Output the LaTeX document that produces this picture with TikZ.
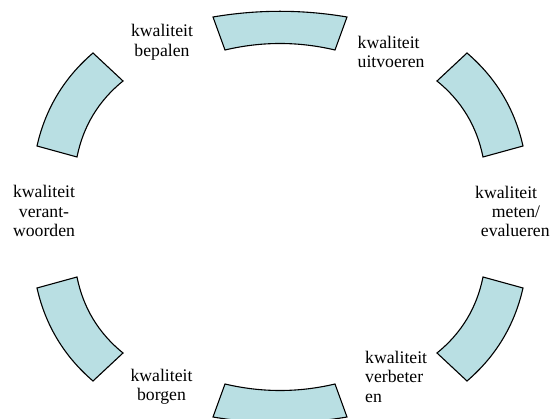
\documentclass[tikz,border=0pt]{standalone}
\usepackage{fontspec}
\setmainfont{Liberation Serif}
\definecolor{segfill}{RGB}{185,223,227}
\tikzset{
  segment/.style={draw=black, fill=segfill, line width=1.1pt, line join=miter},
  lbl/.style={inner sep=0pt, font=\fontsize{17.7}{19.3}\selectfont}
}
\begin{document}
\begin{tikzpicture}[x=1pt,y=-1pt]
\useasboundingbox (0,0) rectangle (555,419);
\clip (0,0) rectangle (555,419);
% segments
\draw[segment] (213,17) .. controls (257.67,9.4) and (302.33,9.4) .. (347,17) -- (335,50) .. controls (298.33,41.33) and (261.67,41.33) .. (225,50) -- cycle;
\draw[segment] (467,53) .. controls (495.93,77.8) and (514.6,108.8) .. (523,146) -- (483,157) .. controls (476.8,126.16) and (461.47,100.83) .. (437,81) -- cycle;
\draw[segment] (93,53) .. controls (64.07,77.8) and (45.4,108.8) .. (37,146) -- (77,157) .. controls (83.2,126.16) and (98.53,100.83) .. (123,81) -- cycle;
\draw[segment] (93,381) .. controls (64.07,356.2) and (45.4,325.2) .. (37,288) -- (77,277) .. controls (83.2,307.84) and (98.53,333.17) .. (123,353) -- cycle;
\draw[segment] (467,381) .. controls (495.93,356.2) and (514.6,325.2) .. (523,288) -- (483,277) .. controls (476.8,307.84) and (461.47,333.17) .. (437,353) -- cycle;
\draw[segment] (213,417) .. controls (257.67,424.6) and (302.33,424.6) .. (347,417) -- (335,384) .. controls (298.33,392.67) and (261.67,392.67) .. (225,384) -- cycle;
% labels
\node[lbl, anchor=base] (bepalen) at (162,37) {\begin{tabular}[t]{@{}c@{}}kwaliteit\\bepalen\end{tabular}};
\node[lbl, anchor=base west] (uitvoeren) at (357.5,48.5) {\begin{tabular}[t]{@{}l@{}}kwaliteit\\uitvoeren\end{tabular}};
\node[lbl, anchor=base] (verantwoorden) at (44,198) {\begin{tabular}[t]{@{}c@{}}kwaliteit\\verant-\\woorden\end{tabular}};
\node[lbl, anchor=base west] (meten) at (475,198.3) {\begin{tabular}[t]{@{}l@{}}kwaliteit\\\hspace*{16.7pt}meten/\\\hspace*{5.7pt}evalueren\end{tabular}};
\node[lbl, anchor=base west] (verbeteren) at (365,363.5) {\begin{tabular}[t]{@{}l@{}}kwaliteit\\verbeter\\en\end{tabular}};
\node[lbl, anchor=base] (borgen) at (161.5,381.5) {\begin{tabular}[t]{@{}c@{}}kwaliteit\\borgen\end{tabular}};
\end{tikzpicture}
\end{document}
